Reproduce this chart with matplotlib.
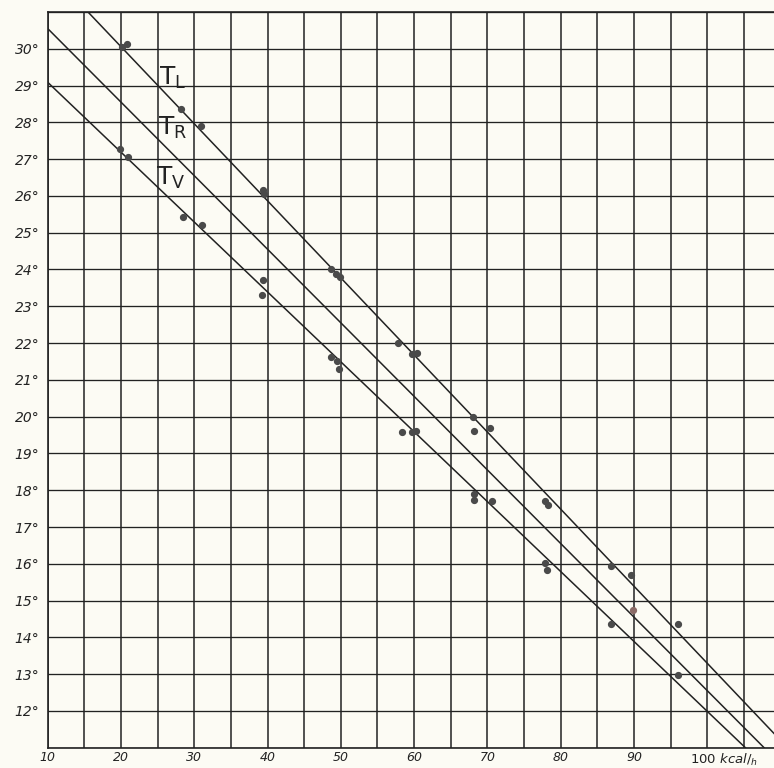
import matplotlib.pyplot as plt
import numpy as np

# the three fitted lines, given by two points each (x in kcal/h, y in deg C)
tl_x = [15.5, 110.95]
tl_y = [31.0, 11.0]
tr_x = [10.0, 107.75]
tr_y = [30.55, 11.0]
tv_x = [10.0, 105.2]
tv_y = [29.09, 11.0]

# measured points near the upper line (T_L)
pts_tl_x = [20.2, 20.8, 28.2, 30.9, 39.4, 39.5, 48.7, 49.4, 49.9, 57.8, 59.7, 60.4,
            68.0, 68.1, 70.3, 77.8, 78.2, 86.9, 89.6, 96.0]
pts_tl_y = [30.05, 30.13, 28.37, 27.91, 26.16, 26.05, 24.0, 23.89, 23.8, 22.0, 21.71, 21.72,
            19.98, 19.62, 19.69, 17.71, 17.6, 15.94, 15.69, 14.37]
# points near T_R
pts_tr_x = [89.9]
pts_tr_y = [14.75]
# measured points near the lower line (T_V)
pts_tv_x = [19.8, 20.9, 28.4, 31.0, 39.4, 39.2, 48.6, 49.5, 49.7, 58.3, 59.7, 60.3,
            68.1, 68.1, 70.6, 77.8, 78.1, 86.9, 96.0]
pts_tv_y = [27.28, 27.05, 25.43, 25.2, 23.71, 23.3, 21.63, 21.51, 21.3, 19.57, 19.57, 19.6,
            17.89, 17.73, 17.71, 16.03, 15.82, 14.37, 12.97]

y_ticks = list(range(12, 31))
x_ticks = [10, 20, 30, 40, 50, 60, 70, 80, 90]

paper = '#fcfbf4'
ink = '#222222'

fig = plt.figure(figsize=(7.74, 7.68), dpi=100, facecolor=paper)
ax = fig.add_axes([0.0616, 0.0264, 0.9384, 0.958])
ax.set_facecolor(paper)

ax.set_xlim(10, 109.1)
ax.set_ylim(11, 31)

# grid paper
for gx in np.arange(10, 110, 5):
    ax.axvline(gx, color=ink, lw=1.1, zorder=1)
for gy in range(11, 32):
    ax.axhline(gy, color=ink, lw=0.95, zorder=1)

ax.plot(tl_x, tl_y, color=ink, lw=1.1, zorder=2)
ax.plot(tr_x, tr_y, color=ink, lw=1.1, zorder=2)
ax.plot(tv_x, tv_y, color=ink, lw=1.1, zorder=2)

ax.plot(pts_tl_x, pts_tl_y, 'o', color='#4a4a4a', ms=4.2, zorder=3)
ax.plot(pts_tr_x, pts_tr_y, 'o', color='#8a6a66', ms=4.2, zorder=3)
ax.plot(pts_tv_x, pts_tv_y, 'o', color='#4a4a4a', ms=4.2, zorder=3)

# line names
ax.text(25.2, 29.2, r'$\mathregular{T_L}$', fontsize=18, color=ink, va='center')
ax.text(25.0, 27.85, r'$\mathregular{T_R}$', fontsize=18, color=ink, va='center')
ax.text(24.8, 26.5, r'$\mathregular{T_V}$', fontsize=18, color=ink, va='center')

ax.set_yticks(y_ticks)
ax.set_yticklabels([f'{v}°' for v in y_ticks], fontstyle='italic', fontsize=10, color=ink)
ax.set_xticks(x_ticks)
ax.set_xticklabels([str(v) for v in x_ticks], fontstyle='italic', fontsize=9, color=ink)
ax.tick_params(axis='y', length=0, pad=6)
ax.tick_params(axis='x', length=0, pad=2)
ax.text(97.6, 10.9, r'$100\ kcal/_h$', fontsize=9.5, color=ink, va='top', ha='left',
        clip_on=False)

for s in ['top', 'left', 'bottom']:
    ax.spines[s].set_color(ink)
    ax.spines[s].set_linewidth(1.2)
ax.spines['right'].set_visible(False)

fig.savefig('out.png', dpi=100, facecolor=paper)
